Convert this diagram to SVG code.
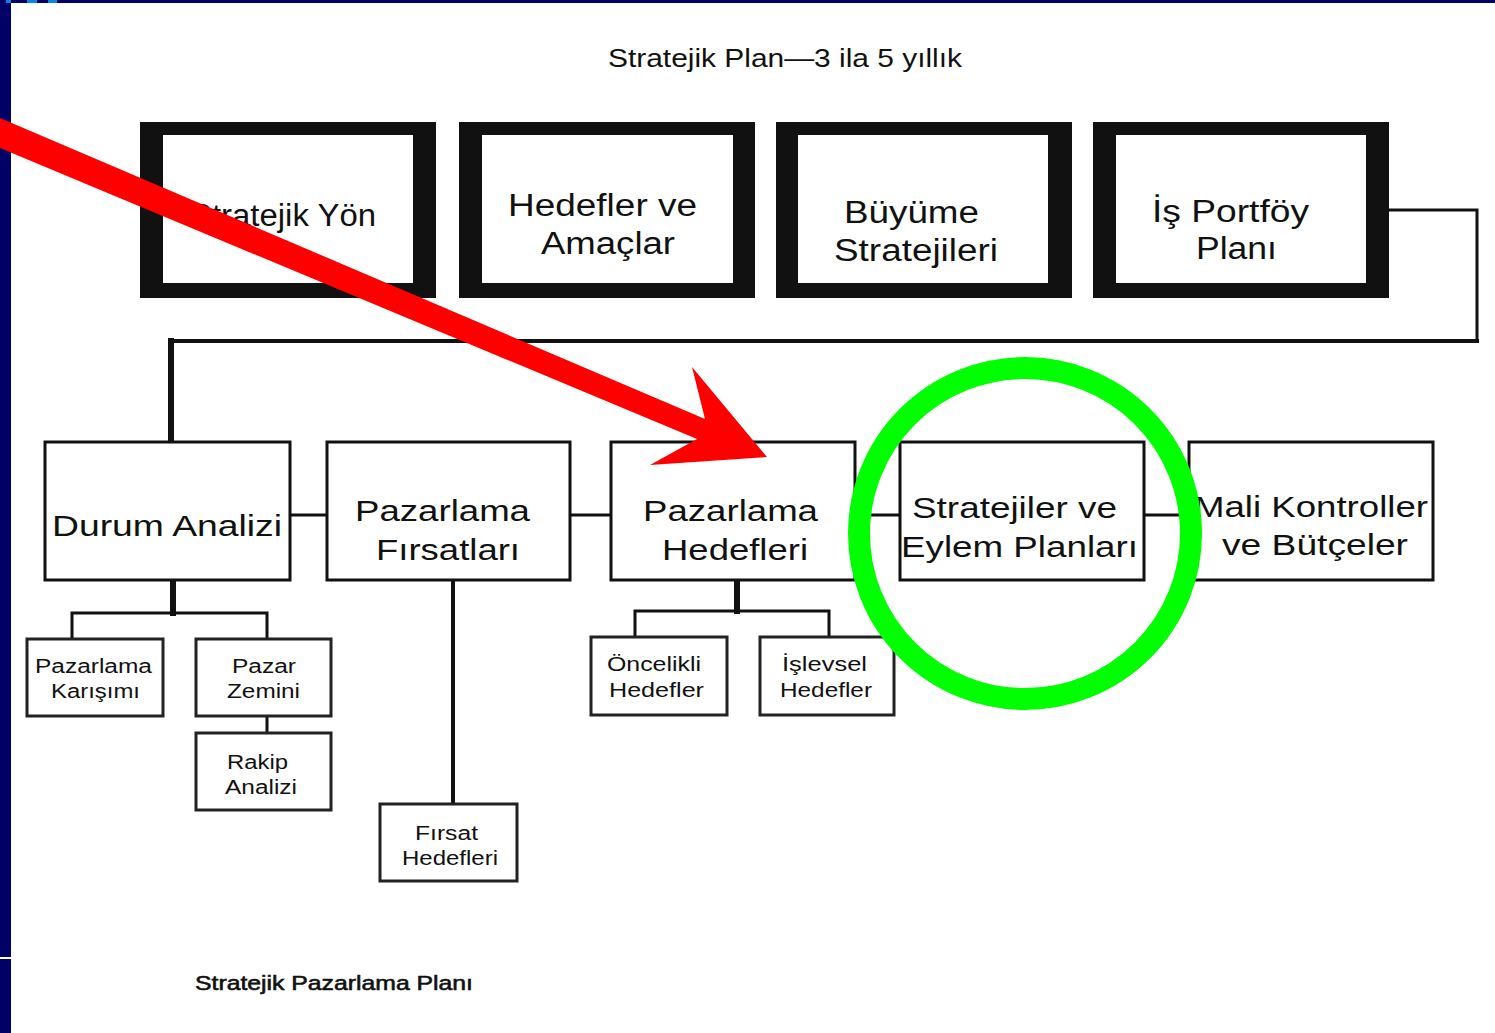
<svg xmlns="http://www.w3.org/2000/svg" width="1495" height="1033" viewBox="0 0 1495 1033">
  <style>
    text { font-family: "Liberation Sans", Arial, sans-serif; fill: #111; }
    .big { font-size: 31px; }
    .mid { font-size: 30px; }
    .small { font-size: 20px; }
    .title { font-size: 26px; }
    .caption { font-size: 21px; stroke: #111; stroke-width: 0.6; }
    .frame { fill: #111; }
    .inner { fill: #fff; }
    .box { fill: #fff; stroke: #111; stroke-width: 3; }
    .sbox { fill: #fff; stroke: #222; stroke-width: 3; }
    .wire { fill: none; stroke: #111; stroke-linecap: square; }
  </style>

  <!-- slide background and navy frame -->
  <rect x="0" y="0" width="1495" height="1033" fill="#fff"/>
  <rect x="0" y="0" width="1495" height="3" fill="#000066"/>
  <rect x="0" y="0" width="11" height="1033" fill="#000066"/>
  <rect x="0" y="957" width="11" height="2" fill="#fff"/>
  <rect x="6" y="0" width="5" height="3" fill="#0a84e8"/>
  <rect x="27" y="0" width="10" height="3" fill="#0a84e8"/>
  <rect x="48" y="0" width="9" height="3" fill="#0a84e8"/>

  <text class="title" x="608" y="67" textLength="354" lengthAdjust="spacingAndGlyphs">Stratejik Plan—3 ila 5 yıllık</text>

  <!-- connectors -->
  <g id="connectors">
    <polyline class="wire" stroke-width="3" points="1389,210 1477,210 1477,341"/>
    <line class="wire" stroke-width="4" x1="1477" y1="341" x2="171" y2="341"/>
    <line class="wire" stroke-width="6" x1="171" y1="341" x2="171" y2="441" stroke-linecap="butt"/>
    <line class="wire" stroke-width="3" x1="290" y1="515" x2="327" y2="515"/>
    <line class="wire" stroke-width="3" x1="570" y1="515" x2="611" y2="515"/>
    <line class="wire" stroke-width="3" x1="855" y1="515" x2="900" y2="515"/>
    <line class="wire" stroke-width="3" x1="1144" y1="515" x2="1189" y2="515"/>
    <!-- Durum Analizi children -->
    <line class="wire" stroke-width="6" x1="173" y1="580" x2="173" y2="613" stroke-linecap="butt"/>
    <polyline class="wire" stroke-width="3" points="72,639 72,613 267,613 267,639"/>
    <line class="wire" stroke-width="3" x1="267" y1="716" x2="267" y2="733"/>
    <!-- Pazarlama Fırsatları child -->
    <line class="wire" stroke-width="4" x1="453" y1="580" x2="453" y2="804" stroke-linecap="butt"/>
    <!-- Pazarlama Hedefleri children -->
    <line class="wire" stroke-width="6" x1="737" y1="580" x2="737" y2="611" stroke-linecap="butt"/>
    <polyline class="wire" stroke-width="3" points="635,637 635,611 829,611 829,637"/>
  </g>

  <!-- top row: heavy framed boxes -->
  <g id="stratejik-yon">
    <rect class="frame" x="140" y="122" width="296" height="176"/>
    <rect class="inner" x="163" y="135" width="250" height="148"/>
    <text class="big" x="190" y="226" textLength="186" lengthAdjust="spacingAndGlyphs">Stratejik Yön</text>
  </g>
  <g id="hedefler-amaclar">
    <rect class="frame" x="459" y="122" width="296" height="176"/>
    <rect class="inner" x="482" y="135" width="251" height="148"/>
    <text class="big" x="508" y="216" textLength="189" lengthAdjust="spacingAndGlyphs">Hedefler ve</text>
    <text class="big" x="541" y="254" textLength="134" lengthAdjust="spacingAndGlyphs">Amaçlar</text>
  </g>
  <g id="buyume-stratejileri">
    <rect class="frame" x="776" y="122" width="296" height="176"/>
    <rect class="inner" x="798" y="135" width="250" height="148"/>
    <text class="big" x="844" y="223" textLength="135" lengthAdjust="spacingAndGlyphs">Büyüme</text>
    <text class="big" x="834" y="261" textLength="164" lengthAdjust="spacingAndGlyphs">Stratejileri</text>
  </g>
  <g id="is-portfoy-plani">
    <rect class="frame" x="1093" y="122" width="296" height="176"/>
    <rect class="inner" x="1116" y="135" width="250" height="148"/>
    <text class="big" x="1152" y="222" textLength="157" lengthAdjust="spacingAndGlyphs">İş Portföy</text>
    <text class="big" x="1196" y="259" textLength="81" lengthAdjust="spacingAndGlyphs">Planı</text>
  </g>

  <!-- second row -->
  <g id="durum-analizi">
    <rect class="box" x="45" y="442" width="245" height="138"/>
    <text class="mid" x="52" y="536" textLength="230" lengthAdjust="spacingAndGlyphs">Durum Analizi</text>
  </g>
  <g id="pazarlama-firsatlari">
    <rect class="box" x="327" y="442" width="243" height="138"/>
    <text class="mid" x="355" y="521" textLength="175" lengthAdjust="spacingAndGlyphs">Pazarlama</text>
    <text class="mid" x="376" y="560" textLength="144" lengthAdjust="spacingAndGlyphs">Fırsatları</text>
  </g>
  <g id="pazarlama-hedefleri">
    <rect class="box" x="611" y="442" width="244" height="138"/>
    <text class="mid" x="643" y="521" textLength="175" lengthAdjust="spacingAndGlyphs">Pazarlama</text>
    <text class="mid" x="662" y="560" textLength="146" lengthAdjust="spacingAndGlyphs">Hedefleri</text>
  </g>
  <g id="stratejiler-eylem">
    <rect class="box" x="900" y="442" width="244" height="138"/>
    <text class="mid" x="912" y="518" textLength="205" lengthAdjust="spacingAndGlyphs">Stratejiler ve</text>
    <text class="mid" x="901" y="557" textLength="237" lengthAdjust="spacingAndGlyphs">Eylem Planları</text>
  </g>
  <g id="mali-kontroller">
    <rect class="box" x="1189" y="442" width="244" height="138"/>
    <text class="mid" x="1194" y="517" textLength="234" lengthAdjust="spacingAndGlyphs">Mali Kontroller</text>
    <text class="mid" x="1222" y="555" textLength="186" lengthAdjust="spacingAndGlyphs">ve Bütçeler</text>
  </g>

  <!-- third level -->
  <g id="pazarlama-karisimi">
    <rect class="sbox" x="27" y="639" width="136" height="77"/>
    <text class="small" x="35" y="673" textLength="117" lengthAdjust="spacingAndGlyphs">Pazarlama</text>
    <text class="small" x="51" y="698" textLength="89" lengthAdjust="spacingAndGlyphs">Karışımı</text>
  </g>
  <g id="pazar-zemini">
    <rect class="sbox" x="196" y="639" width="135" height="77"/>
    <text class="small" x="232" y="673" textLength="64" lengthAdjust="spacingAndGlyphs">Pazar</text>
    <text class="small" x="227" y="698" textLength="73" lengthAdjust="spacingAndGlyphs">Zemini</text>
  </g>
  <g id="rakip-analizi">
    <rect class="sbox" x="196" y="733" width="135" height="77"/>
    <text class="small" x="227" y="769" textLength="61" lengthAdjust="spacingAndGlyphs">Rakip</text>
    <text class="small" x="225" y="794" textLength="72" lengthAdjust="spacingAndGlyphs">Analizi</text>
  </g>
  <g id="firsat-hedefleri">
    <rect class="sbox" x="380" y="804" width="137" height="77"/>
    <text class="small" x="415" y="840" textLength="63" lengthAdjust="spacingAndGlyphs">Fırsat</text>
    <text class="small" x="402" y="865" textLength="96" lengthAdjust="spacingAndGlyphs">Hedefleri</text>
  </g>
  <g id="oncelikli-hedefler">
    <rect class="sbox" x="591" y="637" width="136" height="78"/>
    <text class="small" x="607" y="671" textLength="94" lengthAdjust="spacingAndGlyphs">Öncelikli</text>
    <text class="small" x="609" y="697" textLength="95" lengthAdjust="spacingAndGlyphs">Hedefler</text>
  </g>
  <g id="islevsel-hedefler">
    <rect class="sbox" x="760" y="637" width="134" height="78"/>
    <text class="small" x="782" y="671" textLength="85" lengthAdjust="spacingAndGlyphs">İşlevsel</text>
    <text class="small" x="780" y="697" textLength="92" lengthAdjust="spacingAndGlyphs">Hedefler</text>
  </g>

  <text class="caption" x="195" y="990" textLength="278" lengthAdjust="spacingAndGlyphs">Stratejik Pazarlama Planı</text>

  <!-- highlight ring -->
  <ellipse cx="1025" cy="533.5" rx="166" ry="165.5" fill="none" stroke="#00ff00" stroke-width="22"/>

  <!-- pointer arrow -->
  <polygon fill="#ff0000" points="0,118 705,419 692,367 767,457 650,465 697,439 0,148"/>
</svg>
